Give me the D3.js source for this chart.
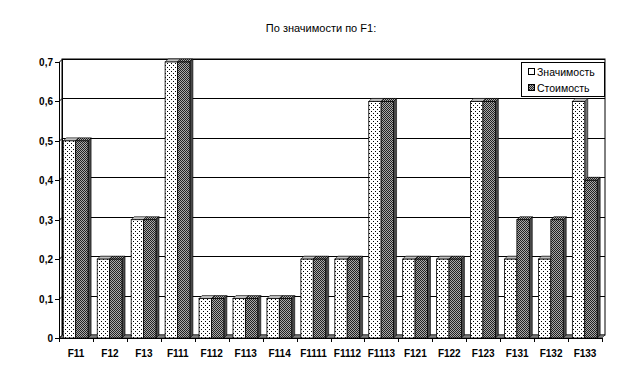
<!DOCTYPE html>
<html><head><meta charset="utf-8">
<script src="https://cdn.jsdelivr.net/npm/d3@7"></script>
<style>body{margin:0;background:#fff}svg{display:block}</style>
</head><body><svg id="c" width="640" height="376"></svg>
<script>
const categories = ["F11","F12","F13","F111","F112","F113","F114","F1111","F1112","F1113","F121","F122","F123","F131","F132","F133"];
const znachimost = [0.5,0.2,0.3,0.7,0.1,0.1,0.1,0.2,0.2,0.6,0.2,0.2,0.6,0.2,0.2,0.6];
const stoimost   = [0.5,0.2,0.3,0.7,0.1,0.1,0.1,0.2,0.2,0.6,0.2,0.2,0.6,0.3,0.3,0.4];
const seriesNames = ["Значимость","Стоимость"];
const yTicks = [0,0.1,0.2,0.3,0.4,0.5,0.6,0.7];
const title = "По значимости по F1:";

const svg = d3.select("#c");
const font = "Arial, 'Liberation Sans', sans-serif";
const defs = svg.append("defs");
const p1 = defs.append("pattern").attr("id","dots").attr("patternUnits","userSpaceOnUse").attr("width",4).attr("height",4);
p1.append("rect").attr("width",4).attr("height",4).attr("fill","#fff");
p1.append("rect").attr("x",1).attr("y",1).attr("width",1).attr("height",1).attr("fill","#000");
p1.append("rect").attr("x",3).attr("y",3).attr("width",1).attr("height",1).attr("fill","#000");
const p2 = defs.append("pattern").attr("id","check").attr("patternUnits","userSpaceOnUse").attr("width",2).attr("height",2);
p2.append("rect").attr("width",2).attr("height",2).attr("fill","#aaa");
p2.append("rect").attr("x",0).attr("y",0).attr("width",1).attr("height",1).attr("fill","#222");
p2.append("rect").attr("x",1).attr("y",1).attr("width",1).attr("height",1).attr("fill","#222");

const x0 = 59, x1 = 602, y0 = 338, yTop = 62;
const dx = 3, dy = 3;
const x = d3.scaleBand().domain(categories).range([x0, x1]).paddingInner(0).paddingOuter(0);
const y = d3.scaleLinear().domain([0,0.7]).range([y0, yTop]);

svg.append("rect").attr("x",x0+dx).attr("y",yTop-dy).attr("width",x1-x0).attr("height",y0-yTop).attr("fill","#fff").attr("stroke","#000").attr("stroke-width",1);
svg.append("g").selectAll("line").data(yTicks.slice(1)).join("line")
  .attr("x1",x0+dx).attr("x2",x1+dx).attr("y1",d=>Math.round(y(d)-dy)+0.5).attr("y2",d=>Math.round(y(d)-dy)+0.5)
  .attr("stroke","#000").attr("stroke-width",1);
svg.append("line").attr("x1",x0+dx+0.5).attr("x2",x0+dx+0.5).attr("y1",yTop-dy).attr("y2",y0-dy).attr("stroke","#000");
svg.append("polygon").attr("points",[[x0,y0],[x0+dx,y0-dy],[x1+dx,y0-dy],[x1,y0]].join(" ")).attr("fill","#808080").attr("stroke","#000").attr("stroke-width",0.5);

const bw = 12.4, off = 4.3;
const data = [];
categories.forEach((c,i)=>{
  data.push({c, s:0, v:znachimost[i]});
  data.push({c, s:1, v:stoimost[i]});
});
const bars = svg.append("g").selectAll("g").data(data).join("g");
bars.each(function(d){
  const g = d3.select(this);
  const xl = x(d.c) + off + d.s*bw, xr = xl + bw;
  const yt = y(d.v);
  g.append("polygon").attr("points",[[xr,yt],[xr+dx,yt-dy],[xr+dx,y0-dy],[xr,y0]].join(" "))
    .attr("fill",d.s===0?"#777":"#4a4a4a").attr("stroke","#000").attr("stroke-width",0.6);
  g.append("polygon").attr("points",[[xl,yt],[xl+dx,yt-dy],[xr+dx,yt-dy],[xr,yt]].join(" "))
    .attr("fill",d.s===0?"#c0c0c0":"url(#check)").attr("stroke","#000").attr("stroke-width",0.6);
  g.append("rect").attr("x",xl).attr("y",yt).attr("width",bw).attr("height",y0-yt)
    .attr("fill",d.s===0?"url(#dots)":"url(#check)").attr("stroke","#000").attr("stroke-width",0.8);
});

svg.append("line").attr("x1",x0+0.5).attr("x2",x0+0.5).attr("y1",yTop).attr("y2",y0).attr("stroke","#000");
const yt = svg.append("g");
yTicks.forEach(t=>{
  const yy = Math.round(y(t))+0.5;
  yt.append("line").attr("x1",x0-4).attr("x2",x0).attr("y1",yy).attr("y2",yy).attr("stroke","#000");
  yt.append("line").attr("x1",x0).attr("x2",x0+dx).attr("y1",yy).attr("y2",yy-dy).attr("stroke","#000");
  yt.append("text").attr("x",x0-6).attr("y",yy).attr("dy","0.35em").attr("text-anchor","end")
    .attr("font-family",font).attr("font-size",10).attr("font-weight","bold").text(String(t).replace(".",","));
});
svg.append("line").attr("x1",x0).attr("x2",x1).attr("y1",y0+0.5).attr("y2",y0+0.5).attr("stroke","#000");
svg.append("g").selectAll("line").data(d3.range(categories.length+1)).join("line")
  .attr("x1",i=>Math.round(x0+i*x.bandwidth())+0.5).attr("x2",i=>Math.round(x0+i*x.bandwidth())+0.5)
  .attr("y1",y0).attr("y2",y0+4).attr("stroke","#000");
svg.append("g").selectAll("text").data(categories).join("text")
  .attr("x",d=>x(d)+x.bandwidth()/2).attr("y",y0+19).attr("text-anchor","middle")
  .attr("font-family",font).attr("font-size",10).attr("font-weight","bold").text(d=>d);

svg.append("text").attr("x",321).attr("y",32).attr("text-anchor","middle")
  .attr("font-family",font).attr("font-size",11).text(title);

const lg = svg.append("g");
lg.append("rect").attr("x",521.5).attr("y",62.5).attr("width",83).attr("height",34).attr("fill","#fff").attr("stroke","#000");
seriesNames.forEach((n,i)=>{
  const yy = 72 + i*16;
  lg.append("rect").attr("x",528.5).attr("y",yy-3.5).attr("width",6).attr("height",6)
    .attr("fill",i===0?"#fff":"url(#check)").attr("stroke","#000");
  lg.append("text").attr("x",537).attr("y",yy).attr("dy","0.35em")
    .attr("font-family",font).attr("font-size",10.5).text(n);
});
</script></body></html>
